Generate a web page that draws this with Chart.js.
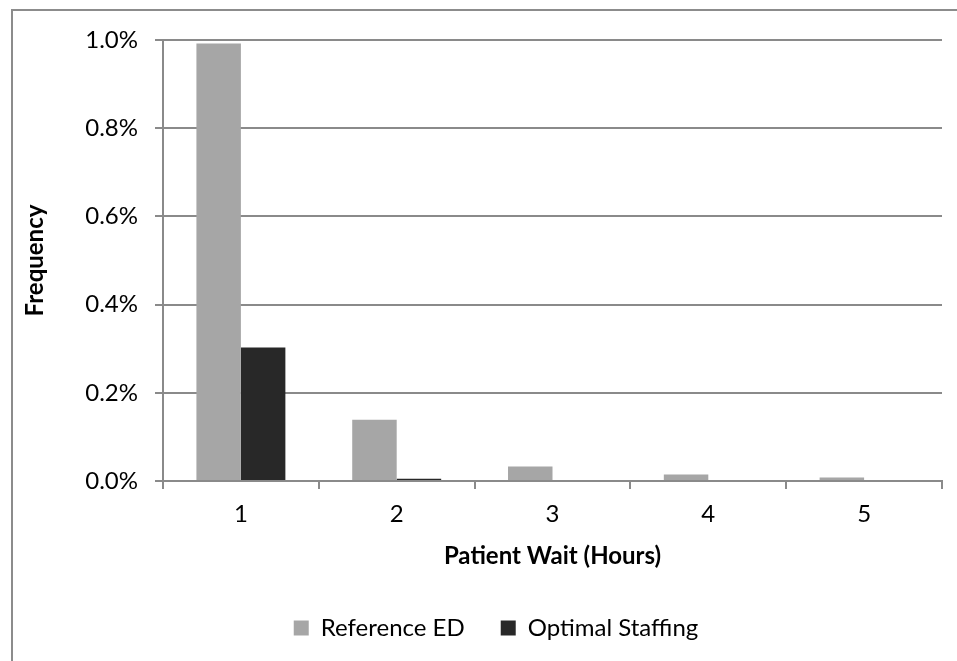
<!DOCTYPE html>
<html>
<head>
<meta charset="utf-8">
<script src="https://cdn.jsdelivr.net/npm/chart.js@4/dist/chart.umd.min.js"></script>
<style>
  body { margin: 0; background: #fff; overflow: hidden; }
  canvas { display: block; }
</style>
</head>
<body>
<canvas id="grafico" width="957" height="661"></canvas>
<script>
const categorias = ['1', '2', '3', '4', '5'];
const referenceED = [0.992, 0.139, 0.033, 0.015, 0.008];
const optimalStaffing = [0.303, 0.005, 0, 0, 0];
const ticksY = [0, 0.2, 0.4, 0.6, 0.8, 1.0];

const corEixo = '#8a8a8a';
const fonte = 'Lato';

// moldura cinza em volta do grafico
const moldura = {
  id: 'moldura',
  beforeDraw(chart) {
    const ctx = chart.ctx;
    ctx.save();
    ctx.fillStyle = '#fff';
    ctx.fillRect(0, 0, chart.width, chart.height);
    ctx.strokeStyle = '#8c8c8c';
    ctx.lineWidth = 2;
    ctx.strokeRect(12, 10, chart.width + 20, chart.height + 20);
    ctx.restore();
  }
};

new Chart(document.getElementById('grafico'), {
  type: 'bar',
  data: {
    labels: categorias,
    datasets: [
      {
        label: 'Reference ED',
        data: referenceED,
        backgroundColor: '#a6a6a6',
        barPercentage: 1,
        categoryPercentage: 0.571
      },
      {
        label: 'Optimal Staffing',
        data: optimalStaffing,
        backgroundColor: '#282828',
        barPercentage: 1,
        categoryPercentage: 0.571
      }
    ]
  },
  options: {
    responsive: false,
    animation: false,
    layout: { padding: { left: 50, right: 15, top: 40, bottom: 11 } },
    plugins: {
      tooltip: { enabled: false },
      legend: {
        position: 'bottom',
        labels: {
          boxWidth: 15,
          boxHeight: 15,
          padding: 36,
          color: '#000',
          font: { family: fonte, size: 24 }
        }
      }
    },
    scales: {
      x: {
        grid: {
          drawOnChartArea: false,
          drawTicks: true,
          tickLength: 8,
          color: corEixo,
          lineWidth: 2
        },
        border: { color: corEixo, width: 2 },
        ticks: { color: '#000', padding: 11, font: { family: fonte, size: 24 } },
        title: {
          display: true,
          text: 'Patient Wait (Hours)',
          color: '#000',
          padding: { top: 0, bottom: 9.6 },
          font: { family: fonte, size: 24, weight: 'bold', lineHeight: 1.2 }
        },
        afterFit(scale) { scale.height = 99; }
      },
      y: {
        min: 0,
        max: 1,
        afterBuildTicks(scale) { scale.ticks = ticksY.map(v => ({ value: v })); },
        grid: {
          tickLength: 8,
          color: corEixo,
          lineWidth: 2
        },
        border: { color: corEixo, width: 2 },
        ticks: {
          color: '#000',
          padding: 17,
          font: { family: fonte, size: 24 },
          callback: v => v.toFixed(1) + '%'
        },
        title: {
          display: true,
          text: 'Frequency',
          color: '#000',
          padding: { top: -29.4, bottom: 0 },
          font: { family: fonte, size: 24, weight: 'bold', lineHeight: 1.2 }
        },
        afterFit(scale) { scale.width = 113; }
      }
    }
  },
  plugins: [moldura]
});
</script>
</body>
</html>
